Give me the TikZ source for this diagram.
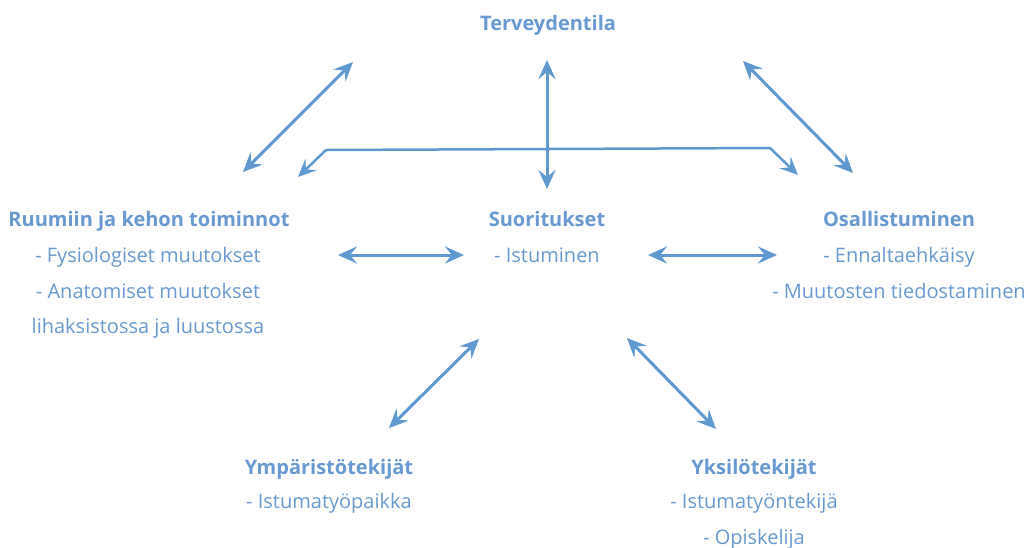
\documentclass[tikz,border=0pt]{standalone}
\usepackage{fontspec}
\setmainfont{Open Sans}
\usetikzlibrary{arrows.meta}
\definecolor{txt}{RGB}{104,153,208}
\definecolor{arr}{RGB}{96,153,208}
\begin{document}
\begin{tikzpicture}[x=1pt,y=-1pt,
  lbl/.style={text=txt,font=\fontsize{20}{36}\selectfont,inner sep=0pt,anchor=base},
  hd/.style={text=txt,font=\fontsize{20}{36}\selectfont\bfseries,inner sep=0pt,anchor=base},
  dbl/.style={arr,line width=3pt,{Stealth[length=19pt,width=17pt,inset=7pt]}-{Stealth[length=19pt,width=17pt,inset=7pt]}},
  sgl/.style={arr,line width=3pt,-{Stealth[length=18pt,width=16pt,inset=7pt]}}]
\useasboundingbox (0,0) rectangle (1028,547);
% headings
\node[hd] (terv) at (548,30) {Terveydentila};
\node[hd] (ruum) at (149,226) {Ruumiin ja kehon toiminnot};
\node[lbl] (ruum1) at (148,262) {- Fysiologiset muutokset};
\node[lbl] (ruum2) at (148,298) {- Anatomiset muutokset};
\node[lbl] (ruum3) at (148,333) {lihaksistossa ja luustossa};
\node[hd] (suor) at (547,226) {Suoritukset};
\node[lbl] (suor1) at (547,262) {- Istuminen};
\node[hd] (osal) at (899,226) {Osallistuminen};
\node[lbl] (osal1) at (899,262) {- Ennaltaehkäisy};
\node[lbl] (osal2) at (899,298) {- Muutosten tiedostaminen};
\node[hd] (ymp) at (329,474) {Ympäristötekijät};
\node[lbl] (ymp1) at (329,508) {- Istumatyöpaikka};
\node[hd] (yks) at (754,474) {Yksilötekijät};
\node[lbl] (yks1) at (754,508) {- Istumatyöntekijä};
\node[lbl] (yks2) at (754,544) {- Opiskelija};
% arrow end points
\coordinate (a1) at (353,62); \coordinate (a2) at (243,172);
\coordinate (b1) at (743,61); \coordinate (b2) at (853,173);
\coordinate (c1) at (547,60); \coordinate (c2) at (547,189);
\coordinate (d1) at (338,255); \coordinate (d2) at (464,255);
\coordinate (e1) at (648,255); \coordinate (e2) at (777,255);
\coordinate (f1) at (479,339); \coordinate (f2) at (389,428);
\coordinate (g1) at (627,338); \coordinate (g2) at (716,429);
\coordinate (h0) at (326,150); \coordinate (h1) at (770,148);
\coordinate (hl) at (298,177); \coordinate (hr) at (798,175);
\draw[dbl] (a1) -- (a2);
\draw[dbl] (b1) -- (b2);
\draw[dbl] (c1) -- (c2);
\draw[dbl] (d1) -- (d2);
\draw[dbl] (e1) -- (e2);
\draw[dbl] (f1) -- (f2);
\draw[dbl] (g1) -- (g2);
\draw[sgl,line width=2.5pt] (h0) -- (hl);
\draw[sgl,line width=2.5pt] (h0) -- (h1) -- (hr);
\end{tikzpicture}
\end{document}
